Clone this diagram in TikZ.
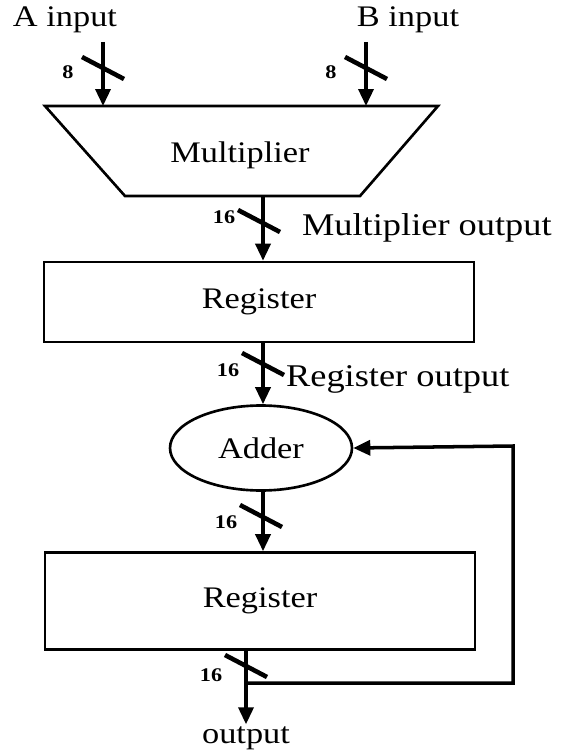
\documentclass[tikz,border=0pt]{standalone}
\usepackage{fontspec}
\setmainfont[FakeStretch=1.15]{Liberation Serif}
\usetikzlibrary{arrows.meta,shapes,positioning,calc}

\tikzset{
    block/.style={draw, line width=1.5pt, minimum width=8.6cm, minimum height=1.6cm, font=\fontsize{17}{20}\selectfont},
    bus/.style={line width=2pt, -{Triangle[length=0.34cm,width=0.3cm]}},
    wire/.style={line width=2pt},
    tick/.style={line width=2.6pt},
    width/.style={font=\bfseries\fontsize{11}{12}\selectfont, inner sep=1pt},
    lbl/.style={font=\fontsize{17}{20}\selectfont, inner sep=1pt},
    sig/.style={font=\fontsize{18}{20}\selectfont, inner sep=1pt, anchor=west}
}
% slash across a bus with its bit count
\newcommand{\buswidth}[3]{
    \draw[tick] (#1) +(-21,-11) -- +(21,11);
    \node[width] at ($(#1)+(-35,#3)$) {#2};
}

\begin{document}
\begin{tikzpicture}[x=0.02cm, y=-0.02cm]
    \useasboundingbox (0,0) rectangle (566,753);

    % multiplier
    \coordinate (m1) at (45,106);
    \coordinate (m2) at (438,106);
    \coordinate (m3) at (360,196);
    \coordinate (m4) at (125,196);
    \draw[line width=1.5pt] (m1) -- (m2) -- (m3) -- (m4) -- cycle;
    \node[lbl] (mult) at (240,155) {Multiplier};

    % inputs
    \node[lbl] (ain) at (65,20) {A input};
    \node[lbl] (bin) at (408,20) {B input};
    \coordinate (a0) at (103,42);
    \coordinate (b0) at (366,42);
    \draw[bus] (a0) -- (a0 |- m1);
    \draw[bus] (b0) -- (b0 |- m1);
    \coordinate (as) at (103,68);
    \coordinate (bs) at (366,68);
    \buswidth{as}{8}{4}
    \buswidth{bs}{8}{4}

    % register after multiplier
    \node[block] (reg1) at (259,302) {Register};
    \coordinate (mo) at (263,196);
    \draw[bus] (mo) -- (mo |- reg1.north);
    \coordinate (ms) at (259,221);
    \buswidth{ms}{16}{-4}
    \node[sig] (mout) at (300,228) {Multiplier output};

    % adder
    \node[draw, ellipse, line width=1.5pt, minimum width=3.64cm, minimum height=1.7cm, font=\fontsize{17}{20}\selectfont] (adder) at (261,448) {Adder};
    \coordinate (ro) at (263,342);
    \draw[bus] (ro) -- (adder.north -| ro);
    \coordinate (rs) at (263,364);
    \buswidth{rs}{16}{6}
    \node[sig] (rout) at (284,379) {Register output};

    % accumulator register
    \node[block, minimum height=1.94cm] (reg2) at (260,601) {Register};
    \coordinate (ao) at (263,490);
    \draw[bus] (adder.south -| ao) -- (reg2.north -| ao);
    \coordinate (ads) at (261,516);
    \buswidth{ads}{16}{6}

    % output and feedback
    \node[lbl] (out) at (246,738) {output};
    \coordinate (oo) at (246,650);
    \draw[bus] (reg2.south -| oo) -- (out.north);
    \coordinate (os) at (246,666);
    \buswidth{os}{16}{9}
    \coordinate (fb) at (246,683);
    \draw[wire, -{Triangle[length=0.34cm,width=0.3cm]}] (fb) -- (513,683) -- (513,446) -- (adder.east);
\end{tikzpicture}
\end{document}
